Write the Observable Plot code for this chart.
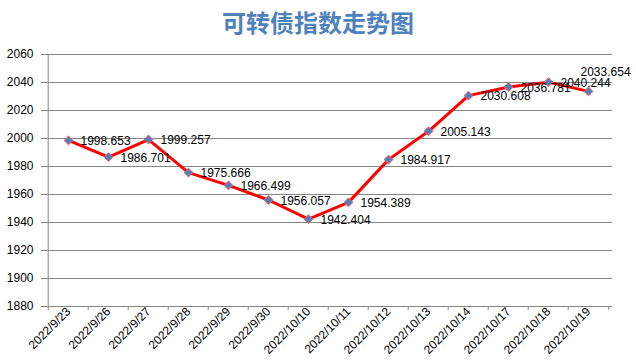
<!DOCTYPE html>
<html><head><meta charset="utf-8">
<script src="https://cdn.jsdelivr.net/npm/d3@7"></script>
<script src="https://cdn.jsdelivr.net/npm/@observablehq/plot@0.6"></script>
<style>
body{margin:0;background:#fff;}
#title{height:40px;line-height:44px;text-align:center;font-family:"Noto Sans CJK SC";font-weight:bold;font-size:24px;color:#4F81BD;}
</style></head><body>
<div id="title">可转债指数走势图</div>
<div id="chart"></div>
<script>
const dates = ["2022/9/23","2022/9/26","2022/9/27","2022/9/28","2022/9/29","2022/9/30","2022/10/10","2022/10/11","2022/10/12","2022/10/13","2022/10/14","2022/10/17","2022/10/18","2022/10/19"];
const values = [1998.653,1986.701,1999.257,1975.666,1966.499,1956.057,1942.404,1954.389,1984.917,2005.143,2030.608,2036.781,2040.244,2033.654];
const yTicks = [1880,1900,1920,1940,1960,1980,2000,2020,2040,2060];

const data = dates.map((d,i)=>({date:d, value:values[i]}));
const W = 636, ML = 44, MR = 24;
const step = (W - ML - MR) / dates.length;
const grey = "#868686";
const fmt = d => d.value.toFixed(3);

const chart = Plot.plot({
  width: W, height: 324,
  marginLeft: ML, marginRight: MR, marginTop: 14, marginBottom: 58,
  style: {fontFamily: "Liberation Sans", fontSize: "12px", color: "black", background: "white"},
  x: {type: "band", domain: dates, padding: 0},
  y: {domain: [yTicks[0], yTicks[yTicks.length-1]]},
  marks: [
    Plot.gridY(yTicks, {stroke: grey, strokeOpacity: 1}),
    Plot.ruleX([dates[0]], {dx: -step/2, stroke: grey}),
    Plot.axisY({ticks: yTicks, tickFormat: "d", tickSize: 3, tickPadding: 8, stroke: grey, fill: "black", label: null, fontSize: 12}),
    Plot.axisX({ticks: dates, tickSize: 4, tickFormat: () => "", dx: -step/2, stroke: grey, label: null}),
    Plot.axisX({ticks: [dates[dates.length-1]], tickSize: 4, tickFormat: () => "", dx: step/2, stroke: grey, label: null}),
    Plot.axisX({ticks: dates, tickSize: 0, tickPadding: 3, tickRotate: -45, fill: "black", label: null, fontSize: 12}),
    Plot.line(data, {x: "date", y: "value", stroke: "#ff0000", strokeWidth: 3}),
    Plot.dot(data, {x: "date", y: "value", symbol: "diamond2", r: 4, fill: "#4F81BD", stroke: "#ff5b5b", strokeWidth: 1}),
    Plot.text(data.slice(0, -1), {x: "date", y: "value", text: fmt, textAnchor: "start", dx: 12, dy: 1, fontSize: 12, fill: "black"}),
    Plot.text(data.slice(-1), {x: "date", y: "value", text: fmt, textAnchor: "start", dx: -8, dy: -19, fontSize: 12, fill: "black"})
  ]
});
document.getElementById("chart").appendChild(chart);
</script>
</body></html>
